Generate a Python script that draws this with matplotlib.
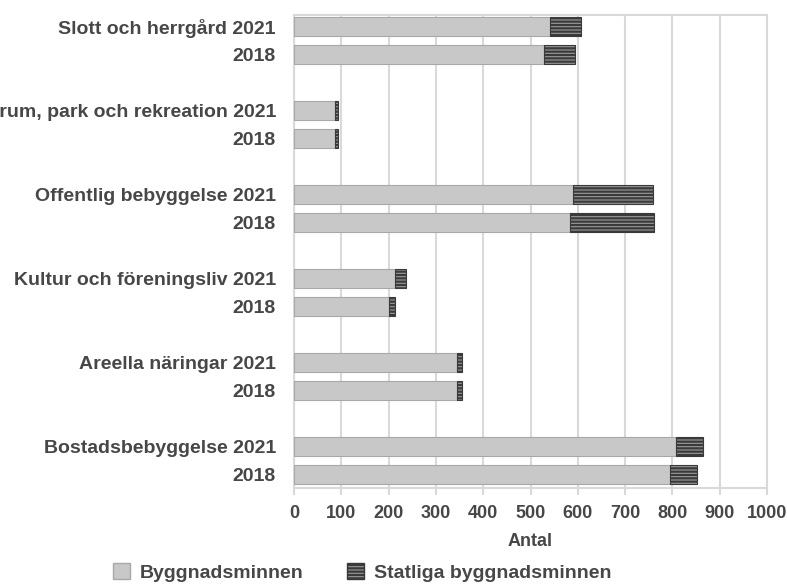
import matplotlib.pyplot as plt
import numpy as np
from matplotlib.patches import Patch

# Data (top group first)
categories = ["Slott och herrgård", "Friluftsrum, park och rekreation", "Offentlig bebyggelse",
              "Kultur och föreningsliv", "Areella näringar", "Bostadsbebyggelse"]
years = ["2021", "2018"]
byggnadsminnen_2021 = [541, 86, 590, 213, 345, 807]
byggnadsminnen_2018 = [529, 86, 584, 201, 345, 795]
statliga_2021 = [66, 7, 170, 23, 10, 57]
statliga_2018 = [66, 7, 177, 13, 10, 56]
x_ticks = [0, 100, 200, 300, 400, 500, 600, 700, 800, 900, 1000]

plt.rcParams.update({
    'font.family': 'Liberation Sans',
    'font.weight': 'bold',
    'hatch.linewidth': 1.6,
})
txt = '#474747'
grid = '#d9d9d9'

fig = plt.figure(figsize=(7.87, 5.85), dpi=100)
ax = fig.add_axes([0.3736, 0.1658, 0.601, 0.8086])

pos, labels, grey, stat = [], [], [], []
for i, cat in enumerate(categories):
    pos += [3 * i, 3 * i + 1]
    labels += [f"{cat} {years[0]}", years[1]]
    grey += [byggnadsminnen_2021[i], byggnadsminnen_2018[i]]
    stat += [statliga_2021[i], statliga_2018[i]]

pos = np.array(pos)
h = 0.68
ax.barh(pos, grey, height=h, color='#c8c8c8', edgecolor='#a8a8a8', lw=0.8, zorder=3)
ax.barh(pos, stat, left=grey, height=h, color='#9a9a9a', edgecolor='#3a3a3a',
        hatch='-----', lw=0.8, zorder=3)

ax.set_ylim(16.5, -0.43)
ax.set_xlim(0, 1000)
ax.set_yticks(pos)
ax.set_yticklabels(labels, fontsize=14, color=txt, fontweight='bold')
ax.tick_params(axis='y', length=0, pad=13)
ax.set_xticks(x_ticks)
ax.set_xticklabels([str(t) for t in x_ticks], fontsize=13, color=txt, fontweight='bold')
ax.tick_params(axis='x', length=5, color=grid, width=1.5, pad=7)
ax.grid(axis='x', color=grid, lw=1.5, zorder=0)
for s in ax.spines.values():
    s.set_color(grid)
    s.set_linewidth(1.5)
ax.set_xlabel("Antal", fontsize=13, color=txt, fontweight='bold', labelpad=8)

handles = [Patch(facecolor='#c8c8c8', edgecolor='#a8a8a8', label='Byggnadsminnen'),
           Patch(facecolor='#9a9a9a', edgecolor='#3a3a3a', hatch='-----', label='Statliga byggnadsminnen')]
leg = fig.legend(handles=handles, loc='center', bbox_to_anchor=(0.46, 0.022), ncol=2,
                 frameon=False, handlelength=0.9, handleheight=0.9,
                 handletextpad=0.5, columnspacing=2.2, prop={'weight': 'bold', 'size': 14})
for t in leg.get_texts():
    t.set_color(txt)

fig.savefig('out.png', dpi=100)
